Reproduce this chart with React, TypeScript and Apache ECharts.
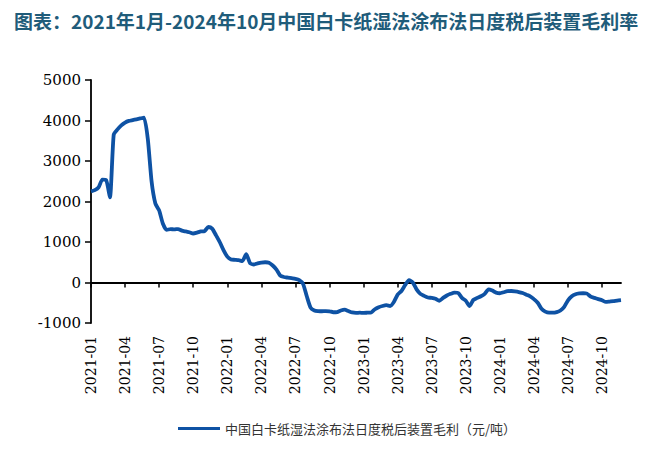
import React, { useEffect, useRef } from "react";
import * as echarts from "echarts";

const TITLE = "图表：2021年1月-2024年10月中国白卡纸湿法涂布法日度税后装置毛利率";
const SERIES_NAME = "中国白卡纸湿法涂布法日度税后装置毛利（元/吨）";

const START_YEAR = 2021;
const MONTH_COUNT = 47; // 2021-01 .. 2024-11
const DAYS = ["01", "11", "21"];
const QUARTER_MONTHS = ["01", "04", "07", "10"];

const dates: string[] = [];
for (let m = 0; m < MONTH_COUNT; m++) {
  const y = START_YEAR + Math.floor(m / 12);
  const mm = String((m % 12) + 1).padStart(2, "0");
  for (const d of DAYS) dates.push(`${y}-${mm}-${d}`);
}

const margin: number[] = [
  2250, 2280, 2350, 2540, 2530, 2100, 3650, 3780, 3880, 3950,
  3990, 4010, 4030, 4050, 4070, 3550, 2500, 1950, 1780, 1450,
  1300, 1320, 1310, 1320, 1280, 1260, 1240, 1210, 1230, 1260,
  1270, 1370, 1330, 1170, 1000, 800, 640, 570, 560, 550,
  530, 700, 480, 445, 470, 490, 500, 490, 420, 320,
  170, 135, 120, 105, 90, 60, -30, -340, -620, -690,
  -705, -710, -705, -710, -735, -730, -690, -670, -705, -740,
  -750, -745, -750, -745, -740, -660, -610, -580, -560, -580,
  -480, -300, -210, -60, 60, 0, -170, -280, -330, -370,
  -380, -400, -450, -380, -320, -280, -250, -260, -380, -450,
  -580, -430, -380, -340, -280, -170, -200, -250, -265, -240,
  -215, -210, -220, -235, -260, -300, -340, -410, -500, -650,
  -720, -745, -745, -730, -690, -600, -440, -340, -290, -270,
  -265, -275, -350, -380, -410, -440, -480, -470, -460, -445,
  -435,
];

const Y_MIN = -1000;
const Y_MAX = 5000;
const Y_INTERVAL = 1000;

const isQuarterStart = (v: string) =>
  v.endsWith("-01") && QUARTER_MONTHS.includes(v.slice(5, 7));

export default function App() {
  const ref = useRef<HTMLDivElement>(null);
  useEffect(() => {
    if (!ref.current) return;
    const chart = echarts.init(ref.current, null, { renderer: "svg" });
    const serif = "DejaVu Serif";
    chart.setOption({
      animation: false,
      backgroundColor: "#ffffff",
      title: {
        text: TITLE,
        left: 9,
        top: 6,
        textStyle: {
          fontSize: 19,
          fontWeight: "bold",
          color: "#1F5C7A",
          fontFamily: "Noto Sans CJK SC, sans-serif",
        },
      },
      legend: {
        left: 173,
        top: 417,
        itemWidth: 42,
        itemHeight: 3,
        itemGap: 10,
        icon: "rect",
        data: [SERIES_NAME],
        textStyle: {
          fontSize: 13,
          color: "#333333",
          fontFamily: "Noto Sans CJK SC, sans-serif",
        },
      },
      grid: {
        left: 91,
        right: 47,
        top: 80,
        bottom: 127,
        containLabel: false,
        outerBoundsMode: "none",
      },
      xAxis: [
        {
          type: "category",
          data: dates,
          boundaryGap: false,
          position: "bottom",
          axisLine: { onZero: true, lineStyle: { color: "#000", width: 1.8 } },
          axisTick: {
            show: true,
            inside: false,
            length: 5,
            interval: (_i: number, v: string) => isQuarterStart(v),
            lineStyle: { color: "#000", width: 1.5 },
          },
          axisLabel: { show: false },
          splitLine: { show: false },
        },
        {
          type: "category",
          data: dates,
          boundaryGap: false,
          position: "bottom",
          axisLine: { show: false, onZero: false },
          axisTick: { show: false },
          axisLabel: {
            show: true,
            interval: (_i: number, v: string) => isQuarterStart(v),
            formatter: (v: string) => v.slice(0, 7),
            rotate: 90,
            margin: 13,
            fontSize: 14,
            color: "#000",
            fontFamily: serif,
          },
          splitLine: { show: false },
        },
      ],
      yAxis: {
        type: "value",
        min: Y_MIN,
        max: Y_MAX,
        interval: Y_INTERVAL,
        axisLine: { show: true, lineStyle: { color: "#000", width: 1.8 } },
        axisTick: {
          show: true,
          inside: false,
          length: 6,
          lineStyle: { color: "#000", width: 1.5 },
        },
        axisLabel: {
          fontSize: 15,
          color: "#000",
          fontFamily: serif,
          margin: 10,
          formatter: (v: number) => String(v),
        },
        splitLine: { show: false },
      },
      series: [
        {
          name: SERIES_NAME,
          type: "line",
          xAxisIndex: 0,
          data: margin,
          showSymbol: false,
          symbol: "none",
          smooth: 0.2,
          lineStyle: { color: "#0E52A4", width: 3.8 },
          itemStyle: { color: "#0E52A4" },
        },
      ],
    });
    return () => chart.dispose();
  }, []);
  return (
    <div
      ref={ref}
      style={{ position: "fixed", left: 0, top: 0, width: 668, height: 450 }}
    />
  );
}
